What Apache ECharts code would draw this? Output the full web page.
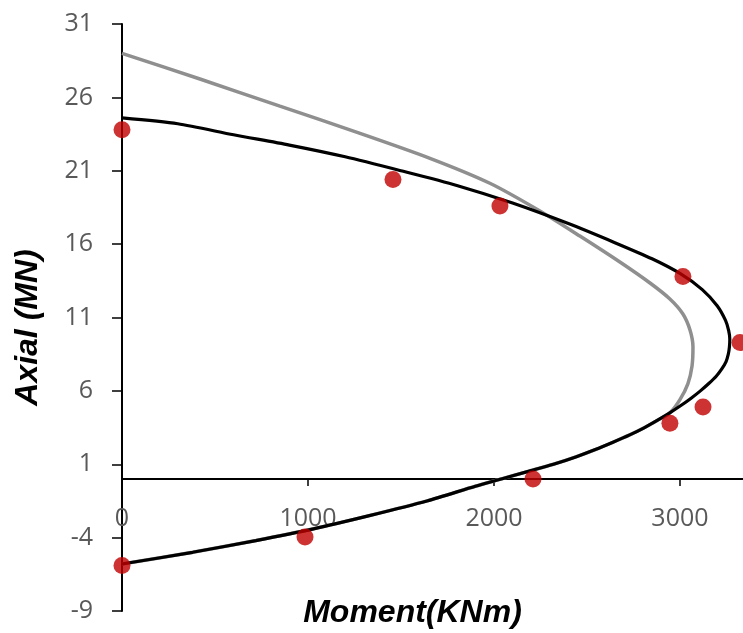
<!DOCTYPE html>
<html>
<head>
<meta charset="utf-8">
<script src="https://cdn.jsdelivr.net/npm/echarts@6/dist/echarts.min.js"></script>
<style>
  html, body { margin: 0; padding: 0; background: #fff; }
  #chart { width: 743px; height: 633px; }
</style>
</head>
<body>
<div id="chart"></div>
<script>
// Interaction diagram: axial force (MN) versus bending moment (kNm)

// Test results (moment, axial)
const testMoment = [0, 1457, 2032, 3016, 3323, 3124, 2946, 2210, 984, 0];
const testAxial  = [23.8, 20.4, 18.6, 13.8, 9.3, 4.9, 3.8, 0.0, -3.95, -5.9];

// Analytical curve A (black): compression branch, tip, then tension branch
const curveAMoment = [0, 300, 600, 900, 1200, 1500, 1800, 2100, 2400, 2650, 2850, 3000, 3120, 3200, 3245, 3262, 3268,
  3266, 3260, 3248, 3225, 3195, 3155, 3110, 3060, 3005, 2945, 2880, 2810, 2730, 2640, 2545, 2440, 2320, 2180, 2040,
  1900, 1640, 1330, 1030, 720, 380, 0];
const curveAAxial  = [24.6, 24.2, 23.45, 22.75, 21.95, 21.0, 20.0, 18.8, 17.4, 16.1, 15.0, 14.0, 12.9, 11.8, 10.8, 10.1, 9.5,
  9.0, 8.5, 8.0, 7.5, 7.0, 6.5, 6.0, 5.5, 5.0, 4.5, 4.0, 3.5, 3.0, 2.5, 2.0, 1.5, 1.0, 0.5, 0.0,
  -0.5, -1.5, -2.5, -3.4, -4.2, -5.0, -5.8];

// Analytical curve B (grey)
const curveBMoment = [0, 419, 849, 1280, 1656, 1978, 2247, 2462, 2677, 2839, 2946, 3016, 3054, 3070, 3065, 3043, 3000, 2946,
  2880, 2810, 2730, 2640, 2545, 2440, 2320, 2180, 2040, 1900, 1640, 1330, 1030, 720, 380, 0];
const curveBAxial  = [29.0, 27.25, 25.4, 23.55, 21.85, 20.15, 18.26, 16.55, 14.78, 13.35, 12.26, 11.24, 10.15, 9.0, 7.7, 6.5, 5.4, 4.5,
  4.0, 3.5, 3.0, 2.5, 2.0, 1.5, 1.0, 0.5, 0.0, -0.5, -1.5, -2.5, -3.4, -4.2, -5.0, -5.8];

// Axis settings
const momentMin = 0, momentMax = 3339, momentStep = 1000;
const axialMin = -9, axialMax = 31, axialStep = 5;

const pairs = (xs, ys) => xs.map((x, i) => [x, ys[i]]);

const labelColor = '#595959';
const labelFont = '"Open Sans", "Liberation Sans", sans-serif';
const nameFont = '"Liberation Sans", Arial, sans-serif';

// Plot area
const gridTop = 24, gridHeight = 587;
// The moment axis runs along axial = 0: shift it up from the plot bottom by that share of the height
const zeroLineOffset = -gridHeight * (0 - axialMin) / (axialMax - axialMin);

const chart = echarts.init(document.getElementById('chart'), null, { renderer: 'canvas' });

chart.setOption({
  animation: false,
  backgroundColor: '#ffffff',
  grid: {
    left: 122,
    top: gridTop,
    right: 0,
    height: gridHeight,
    containLabel: false,
    outerBoundsMode: 'none'
  },
  xAxis: {
    type: 'value',
    min: momentMin,
    max: momentMax,
    interval: momentStep,
    offset: zeroLineOffset,
    name: 'Moment(KNm)',
    nameLocation: 'middle',
    nameGap: 118,
    nameTextStyle: {
      fontFamily: nameFont,
      fontSize: 32,
      fontWeight: 'bold',
      fontStyle: 'italic',
      color: '#000',
      padding: [0, 40, 0, 0]
    },
    axisLine: { onZero: false, lineStyle: { color: '#000', width: 2 } },
    axisTick: { show: true, inside: false, length: 7, lineStyle: { color: '#000', width: 1.5 } },
    axisLabel: {
      show: true,
      margin: 27,
      color: labelColor,
      fontFamily: labelFont,
      fontSize: 25,
      showMinLabel: true,
      showMaxLabel: false,
      formatter: (v) => String(v)
    },
    splitLine: { show: false }
  },
  yAxis: {
    type: 'value',
    min: axialMin,
    max: axialMax,
    interval: axialStep,
    name: 'Axial (MN)',
    nameLocation: 'middle',
    nameGap: 78,
    nameRotate: 90,
    nameTextStyle: {
      fontFamily: nameFont,
      fontSize: 32,
      fontWeight: 'bold',
      fontStyle: 'italic',
      color: '#000',
      padding: [0, 20, 0, 0]
    },
    axisLine: { onZero: false, lineStyle: { color: '#000', width: 2 } },
    axisTick: { show: true, inside: false, length: 10, lineStyle: { color: '#000', width: 1.5 } },
    axisLabel: {
      margin: 29,
      color: labelColor,
      fontFamily: labelFont,
      fontSize: 25
    },
    splitLine: { show: false }
  },
  series: [
    {
      name: 'Curve B',
      type: 'line',
      data: pairs(curveBMoment, curveBAxial),
      smooth: 0.25,
      showSymbol: false,
      lineStyle: { color: '#8f8f8f', width: 3.5 },
      z: 2
    },
    {
      name: 'Curve A',
      type: 'line',
      data: pairs(curveAMoment, curveAAxial),
      smooth: 0.25,
      showSymbol: false,
      lineStyle: { color: '#000000', width: 3.2 },
      z: 3
    },
    {
      name: 'Test',
      type: 'scatter',
      data: pairs(testMoment, testAxial),
      symbol: 'circle',
      symbolSize: 17,
      itemStyle: { color: '#c00000' },
      z: 4
    }
  ]
});
</script>
</body>
</html>
